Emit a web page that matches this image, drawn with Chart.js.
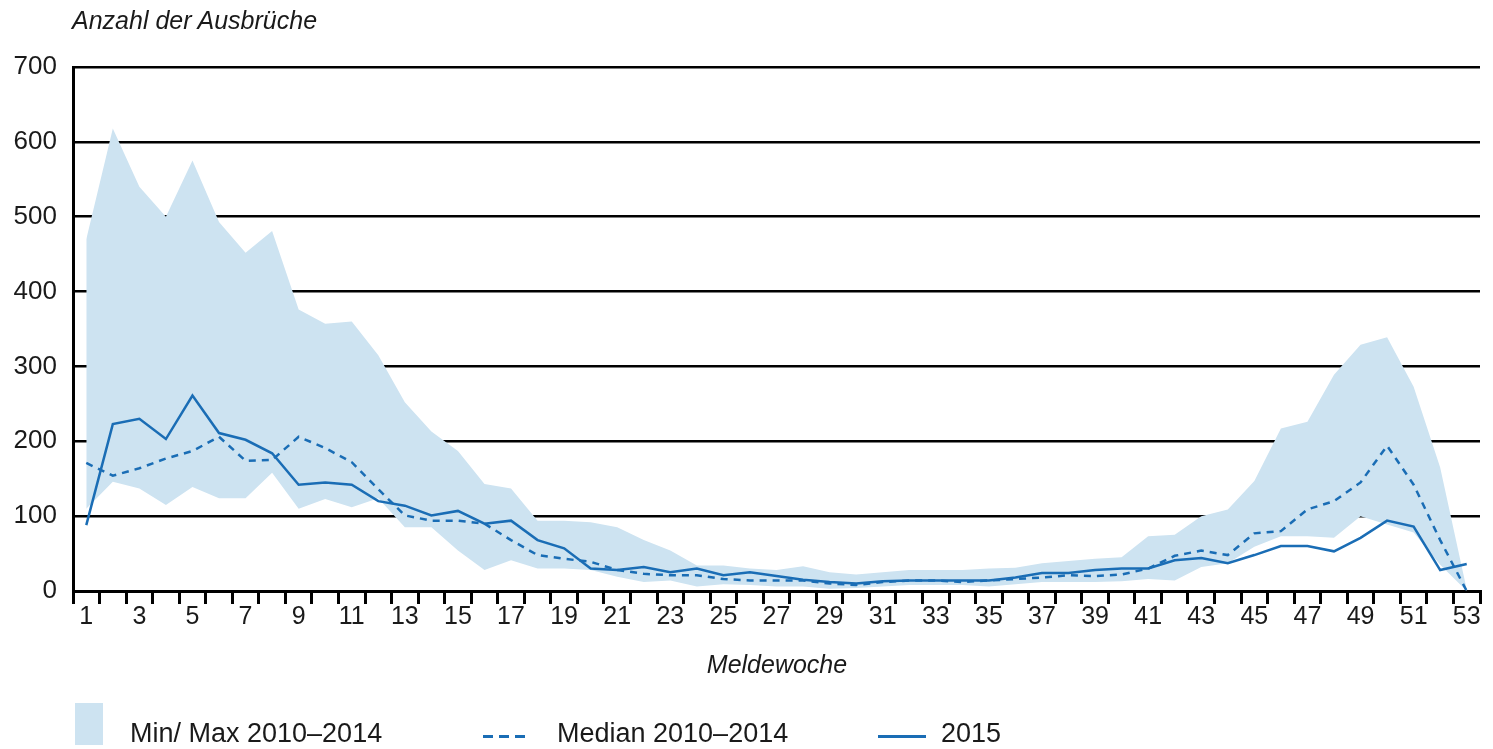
<!DOCTYPE html>
<html>
<head>
<meta charset="utf-8">
<script src="https://cdn.jsdelivr.net/npm/chart.js@4.4.1/dist/chart.umd.min.js"></script>
<style>
  html, body { margin: 0; padding: 0; background: #ffffff; }
  #wrap { position: relative; width: 1493px; height: 749px; overflow: hidden; font-family: "Liberation Sans", Arial, sans-serif; color: #1a1a1a; }
  #c { position: absolute; left: 0; top: 0; }
  .txt { position: absolute; white-space: nowrap; line-height: 1; }
  .it { font-style: italic; font-size: 25px; }
  .leg { font-size: 27px; }
  .sw { position: absolute; }
</style>
</head>
<body>
<div id="wrap">
  <canvas id="c" width="1493" height="749"></canvas>
  <div class="txt it" id="ytitle" style="left:72px; top:8px;">Anzahl der Ausbrüche</div>
  <div class="txt it" id="xtitle" style="left:777px; top:652px; transform:translateX(-50%);">Meldewoche</div>
  <div class="sw" style="left:75px; top:703px; width:28px; height:42px; background:#cde3f1;"></div>
  <div class="txt leg" style="left:130px; top:720px;">Min/ Max 2010–2014</div>
  <div class="sw" style="left:483px; top:735px; width:10px; height:3px; background:#1a6db5;"></div>
  <div class="sw" style="left:499px; top:735px; width:10px; height:3px; background:#1a6db5;"></div>
  <div class="sw" style="left:515px; top:735px; width:10px; height:3px; background:#1a6db5;"></div>
  <div class="txt leg" style="left:557px; top:720px;">Median 2010–2014</div>
  <div class="sw" style="left:878px; top:735px; width:48px; height:3px; background:#1a6db5;"></div>
  <div class="txt leg" style="left:941px; top:720px;">2015</div>
</div>
<script>
// Categories (Meldewoche)
const weeks = ['1','2','3','4','5','6','7','8','9','10','11','12','13','14','15','16','17','18','19','20',
  '21','22','23','24','25','26','27','28','29','30','31','32','33','34','35','36','37','38','39','40',
  '41','42','43','44','45','46','47','48','49','50','51','52','53'];

// Max 2010–2014
const maxValues = [470,618,540,500,575,493,452,481,376,357,360,315,252,213,187,143,137,94,94,92,
  85,68,54,34,34,30,28,33,25,22,25,28,28,28,30,31,37,40,43,45,
  73,75,100,109,147,217,226,289,329,339,273,165,2];

// Min 2010–2014
const minValues = [110,146,137,115,139,124,124,158,110,123,112,124,85,85,54,28,41,30,30,28,
  19,12,14,6,9,8,6,6,3,4,6,8,8,8,6,9,12,12,12,13,
  16,14,32,37,59,73,73,71,100,89,78,35,0];

// Median 2010–2014
const medianValues = [171,154,164,177,187,206,174,175,206,191,172,136,101,94,94,90,68,48,43,39,
  28,23,21,21,16,14,14,14,10,8,12,14,14,12,14,16,18,21,20,22,
  30,47,54,48,77,80,109,120,145,194,142,68,0];

// 2015
const values2015 = [88,223,230,203,261,211,202,184,142,145,142,120,114,101,107,90,94,68,57,30,
  28,32,25,30,21,25,20,15,12,10,13,14,14,14,14,18,24,24,28,30,
  30,41,44,37,48,60,60,53,71,94,86,28,36];

// Y tick values
const yTicks = [0,100,200,300,400,500,600,700];

const lineColor = '#1a6db5';
const fillColor = '#cde3f1';

Chart.defaults.font.family = '"Liberation Sans", Arial, sans-serif';
Chart.defaults.color = '#1a1a1a';

new Chart(document.getElementById('c'), {
  type: 'line',
  data: {
    labels: weeks,
    datasets: [
      { label: '2015', data: values2015, borderColor: lineColor, borderWidth: 2.5,
        pointRadius: 0, tension: 0, fill: false },
      { label: 'Median 2010–2014', data: medianValues, borderColor: lineColor, borderWidth: 2.5,
        borderDash: [7, 6], pointRadius: 0, tension: 0, fill: false },
      { label: 'Max', data: maxValues, borderWidth: 0, borderColor: 'rgba(0,0,0,0)',
        backgroundColor: fillColor, pointRadius: 0, tension: 0, fill: '+1' },
      { label: 'Min', data: minValues, borderWidth: 0, borderColor: 'rgba(0,0,0,0)',
        backgroundColor: fillColor, pointRadius: 0, tension: 0, fill: false }
    ]
  },
  options: {
    responsive: false,
    animation: false,
    devicePixelRatio: 1,
    layout: { padding: { top: 67, right: 13, left: 0, bottom: 0 } },
    plugins: {
      legend: { display: false },
      tooltip: { enabled: false },
      filler: { drawTime: 'beforeDatasetsDraw' }
    },
    scales: {
      x: {
        type: 'category',
        offset: true,
        grid: { offset: true, drawOnChartArea: false, drawTicks: true, tickLength: 13,
                tickWidth: 3, tickColor: '#000', color: '#000', lineWidth: 3 },
        border: { display: true, color: '#000', width: 3 },
        ticks: {
          autoSkip: false, maxRotation: 0, minRotation: 0, padding: -2,
          font: { size: 25 }, color: '#1a1a1a',
          callback: function (v, i) { return i % 2 === 0 ? this.getLabelForValue(v) : ''; }
        },
        afterFit: function (s) { s.height = 158; }
      },
      y: {
        min: 0, max: 700,
        afterBuildTicks: function (s) { s.ticks = yTicks.map(v => ({ value: v })); },
        grid: { color: '#000', lineWidth: 2.5, drawTicks: false },
        border: { display: true, color: '#000', width: 3 },
        ticks: { padding: 16, font: { size: 26 }, color: '#1a1a1a' },
        afterFit: function (s) { s.width = 73; }
      }
    }
  }
});
</script>
</body>
</html>
